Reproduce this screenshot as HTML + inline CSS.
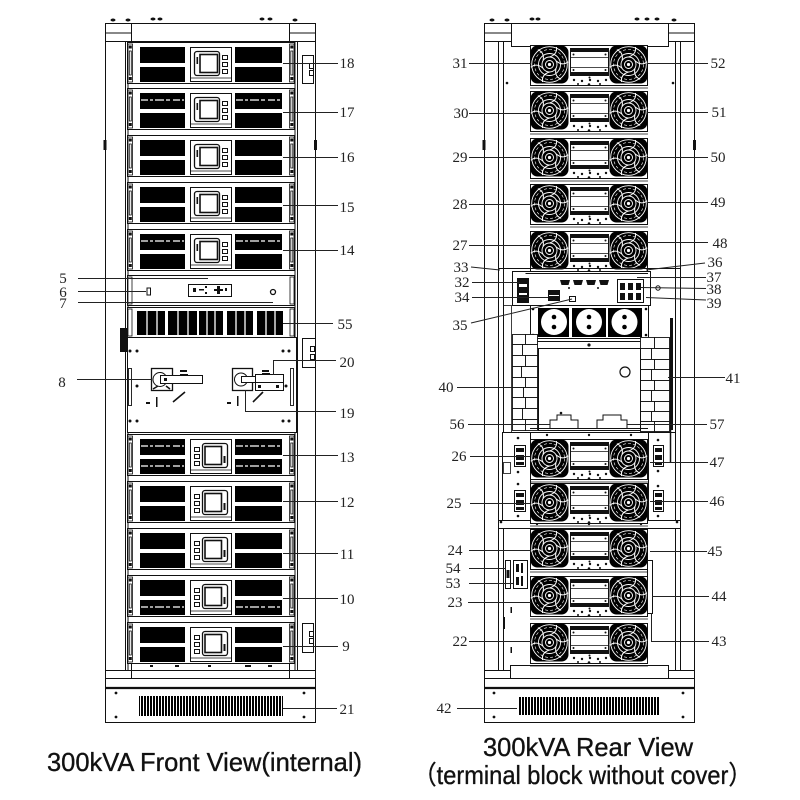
<!DOCTYPE html>
<html><head><meta charset="utf-8"><style>
html,body{margin:0;padding:0;background:#fff;}
svg{display:block;}
.l{font-family:"Liberation Serif",serif;font-size:15px;fill:#222;}
.t{font-family:"Liberation Sans","Noto Sans CJK SC",sans-serif;font-size:26px;fill:#111;stroke:#111;stroke-width:0.35px;}
</style></head><body>
<svg width="800" height="800" viewBox="0 0 800 800" xmlns="http://www.w3.org/2000/svg">
<defs>
<pattern id="vent" width="3" height="30" patternUnits="userSpaceOnUse"><rect width="2" height="30" fill="#000"/></pattern>
<g id="hdl">
<rect x="1" y="2" width="4.5" height="38" fill="#fff" stroke="#111" stroke-width="0.8"/>
<rect x="2.3" y="9" width="2" height="24" fill="none" stroke="#111" stroke-width="0.8"/>
<rect x="1.8" y="3.5" width="3" height="3" fill="#111"/>
<rect x="1.8" y="35" width="3" height="3" fill="#111"/>
</g>
<g id="pmA">
<rect x="0.5" y="0.5" width="167" height="41" fill="#fff" stroke="#111"/>
<use href="#hdl"/><use href="#hdl" x="161.5"/>
<rect x="13" y="5" width="45" height="16" fill="#000"/>
<rect x="13" y="25" width="45" height="15" fill="#000"/>
<rect x="108" y="5" width="47" height="16" fill="#000"/>
<rect x="108" y="25" width="47" height="15" fill="#000"/>
<rect x="63.5" y="5.5" width="41" height="34" fill="#fff" stroke="#111"/>
<line x1="63.5" y1="36" x2="104.5" y2="36" stroke="#111" stroke-width="0.7"/>
<rect x="67.5" y="9.5" width="25" height="24" rx="2.5" fill="none" stroke="#111" stroke-width="1.3"/>
<rect x="73" y="12.5" width="17.5" height="18" fill="none" stroke="#111" stroke-width="1.6"/>
<rect x="69.5" y="15" width="1.6" height="7" fill="#111"/>
<rect x="95.5" y="13.5" width="5" height="4" fill="none" stroke="#111"/>
<rect x="95.5" y="20.5" width="5" height="4" fill="none" stroke="#111"/>
<rect x="95.5" y="27.5" width="5" height="4" fill="none" stroke="#111"/>
</g>
<g id="pmB">
<rect x="0.5" y="0.5" width="167" height="41" fill="#fff" stroke="#111"/>
<use href="#hdl"/><use href="#hdl" x="161.5"/>
<rect x="13" y="5" width="45" height="16" fill="#000"/>
<rect x="13" y="25" width="45" height="15" fill="#000"/>
<rect x="108" y="5" width="47" height="16" fill="#000"/>
<rect x="108" y="25" width="47" height="15" fill="#000"/>
<rect x="63.5" y="5.5" width="41" height="34" fill="#fff" stroke="#111"/>
<line x1="63.5" y1="36" x2="104.5" y2="36" stroke="#111" stroke-width="0.7"/>
<rect x="67.5" y="13.5" width="5" height="4" fill="none" stroke="#111"/>
<rect x="67.5" y="20.5" width="5" height="4" fill="none" stroke="#111"/>
<rect x="67.5" y="27.5" width="5" height="4" fill="none" stroke="#111"/>
<rect x="75.5" y="9.5" width="25" height="24" rx="2.5" fill="none" stroke="#111" stroke-width="1.3"/>
<rect x="78" y="12.5" width="16.5" height="18" fill="none" stroke="#111" stroke-width="1.6"/>
<rect x="96.5" y="22" width="2" height="7" fill="#111"/>
</g>
<g id="fan">
<rect x="-19" y="-19" width="38" height="38" rx="7" fill="#000"/>
<circle r="17.8" fill="none" stroke="#fff" stroke-width="0.9"/>
<circle r="15" fill="none" stroke="#fff" stroke-width="0.6" stroke-dasharray="3 2"/>
<circle r="11" fill="none" stroke="#fff" stroke-width="0.9"/>
<circle r="7.5" fill="none" stroke="#fff" stroke-width="0.9"/>
<circle r="4" fill="none" stroke="#fff" stroke-width="0.9"/>
<circle r="1.6" fill="#fff"/>
<g fill="none" stroke="#fff" stroke-width="1">
<path d="M0,-7.5 Q8,-10 7,-17.5"/>
<path d="M0,-7.5 Q8,-10 7,-17.5" transform="rotate(60)"/>
<path d="M0,-7.5 Q8,-10 7,-17.5" transform="rotate(120)"/>
<path d="M0,-7.5 Q8,-10 7,-17.5" transform="rotate(180)"/>
<path d="M0,-7.5 Q8,-10 7,-17.5" transform="rotate(240)"/>
<path d="M0,-7.5 Q8,-10 7,-17.5" transform="rotate(300)"/>
</g>
</g>
<g id="fm">
<rect x="0.5" y="0.5" width="117" height="40" fill="#fff" stroke="#111"/>
<use href="#fan" x="19.5" y="19.5"/>
<use href="#fan" x="98.5" y="19.5"/>
<rect x="40.5" y="3.5" width="38" height="27" fill="#fff" stroke="#111"/>
<rect x="41" y="4" width="37" height="3" fill="#111"/>
<rect x="41" y="27" width="37" height="3" fill="#111"/>
<line x1="41" y1="12.5" x2="78" y2="12.5" stroke="#111" stroke-width="0.8"/>
<line x1="41" y1="22.5" x2="78" y2="22.5" stroke="#111" stroke-width="0.8"/>
<g fill="#111">
<circle cx="43.5" cy="9.5" r="1"/><circle cx="75.5" cy="9.5" r="1"/>
<circle cx="43.5" cy="25" r="1"/><circle cx="75.5" cy="25" r="1"/>
<circle cx="59.5" cy="32.5" r="1"/>
<circle cx="44" cy="35" r="1.2"/><circle cx="52" cy="36" r="1.2"/><circle cx="60" cy="35" r="1.2"/><circle cx="68" cy="36" r="1.2"/><circle cx="76" cy="35" r="1.2"/>
<circle cx="48" cy="39" r="1"/><circle cx="59" cy="39.5" r="1.3"/><circle cx="70" cy="39" r="1"/>
</g>
<line x1="0" y1="43" x2="118" y2="43" stroke="#111" stroke-width="0.8"/>
</g>
</defs>

<rect width="800" height="800" fill="#fff"/>

<!-- ================= FRONT CABINET ================= -->
<g fill="#111">
<ellipse cx="113" cy="20" rx="2.5" ry="1.5"/><ellipse cx="128" cy="20" rx="2.5" ry="1.5"/>
<ellipse cx="153" cy="19" rx="2.5" ry="1.5"/><ellipse cx="160" cy="19" rx="2.5" ry="1.5"/>
<ellipse cx="262" cy="19" rx="2.5" ry="1.5"/><ellipse cx="270" cy="19" rx="2.5" ry="1.5"/>
<ellipse cx="295" cy="20" rx="2.5" ry="1.5"/>
</g>
<g stroke="#111" fill="none" stroke-width="1">
<rect x="105.5" y="23.5" width="210" height="699"/>
<line x1="105.5" y1="33" x2="131.5" y2="33"/>
<line x1="289.5" y1="33" x2="315.5" y2="33"/>
<line x1="105.5" y1="41.5" x2="315.5" y2="41.5"/>
<line x1="131.5" y1="23.5" x2="131.5" y2="41.5"/>
<line x1="289.5" y1="23.5" x2="289.5" y2="41.5"/>
<line x1="125.5" y1="41.5" x2="125.5" y2="670"/>
<line x1="128" y1="41.5" x2="128" y2="670"/>
<line x1="297.5" y1="41.5" x2="297.5" y2="670"/>
<line x1="295" y1="41.5" x2="295" y2="670"/>
<line x1="105.5" y1="670.5" x2="315.5" y2="670.5"/>
<line x1="131.5" y1="664" x2="131.5" y2="678.5"/>
<line x1="289.5" y1="664" x2="289.5" y2="678.5"/>
<line x1="105.5" y1="678.5" x2="315.5" y2="678.5"/>
</g>
<line x1="105" y1="688" x2="316" y2="688" stroke="#111" stroke-width="2.2"/>
<rect x="139" y="696" width="144" height="20" fill="url(#vent)"/>
<g fill="#111">
<circle cx="116" cy="693" r="1.4"/><circle cx="304" cy="693" r="1.4"/>
<circle cx="116" cy="717" r="1.4"/><circle cx="304" cy="717" r="1.4"/>
<rect x="103.5" y="140" width="3" height="10"/><rect x="314" y="140" width="3" height="10"/>
<rect x="120" y="328" width="7" height="24"/>
</g>

<!-- side boxes -->
<g stroke="#111" fill="#fff" stroke-width="1">
<rect x="302.5" y="55.5" width="11" height="28"/>
<rect x="309.5" y="63.5" width="4" height="5" fill="none"/><rect x="309.5" y="70.5" width="4" height="5" fill="none"/>
<rect x="302.5" y="338.5" width="13" height="29"/>
<rect x="310.5" y="346.5" width="4" height="5" fill="none"/><rect x="310.5" y="354.5" width="4" height="5" fill="none"/>
<rect x="302.5" y="623.5" width="11" height="29"/>
<rect x="309.5" y="631.5" width="4" height="5" fill="none"/><rect x="309.5" y="638.5" width="4" height="5" fill="none"/>
</g>

<!-- power modules -->
<use href="#pmA" x="127" y="42"/>
<use href="#pmA" x="127" y="88"/>
<use href="#pmA" x="127" y="135"/>
<use href="#pmA" x="127" y="182"/>
<use href="#pmA" x="127" y="229"/>
<use href="#pmB" x="127" y="434"/>
<use href="#pmB" x="127" y="481"/>
<use href="#pmB" x="127" y="528"/>
<use href="#pmB" x="127" y="575"/>
<use href="#pmB" x="127" y="622"/>
<g stroke="#fff" stroke-width="1.3" stroke-dasharray="7 2 3 2 9 2 4 3">
<line x1="141" y1="100" x2="184" y2="100"/><line x1="236" y1="100" x2="281" y2="100"/>
<line x1="141" y1="241" x2="184" y2="241"/><line x1="236" y1="241" x2="281" y2="241"/>
<line x1="141" y1="446" x2="184" y2="446"/><line x1="236" y1="446" x2="281" y2="446"/>
<line x1="141" y1="466" x2="184" y2="466"/><line x1="236" y1="466" x2="281" y2="466"/>
<line x1="141" y1="607" x2="184" y2="607"/><line x1="236" y1="607" x2="281" y2="607"/>
</g>

<!-- panel 5/6/7 -->
<rect x="127.5" y="275.5" width="167" height="30" fill="#fff" stroke="#111"/>
<rect x="128" y="277" width="4" height="27" fill="none" stroke="#111" stroke-width="0.8"/>
<rect x="290" y="277" width="4" height="27" fill="none" stroke="#111" stroke-width="0.8"/>
<rect x="147" y="288" width="3.5" height="7" fill="none" stroke="#111"/>
<rect x="188.5" y="284.5" width="43" height="12" fill="#fff" stroke="#111"/>
<g fill="#111">
<rect x="193" y="288" width="3" height="4"/><rect x="199" y="289" width="5" height="1.5"/><rect x="205" y="286" width="2" height="2"/><rect x="205" y="292" width="2" height="2"/>
<rect x="214" y="289" width="9" height="2"/><rect x="217" y="286" width="3" height="8"/><rect x="225" y="288" width="2" height="3"/>
</g>
<circle cx="273" cy="292" r="2.5" fill="none" stroke="#111" stroke-width="1.3"/>

<!-- fan panel 55 -->
<rect x="127.5" y="307.5" width="167" height="30" fill="#fff" stroke="#111"/>
<rect x="128" y="309" width="4" height="27" fill="none" stroke="#111" stroke-width="0.8"/>
<rect x="290" y="309" width="4" height="27" fill="none" stroke="#111" stroke-width="0.8"/>
<g fill="#000">
<rect x="137" y="311" width="28" height="24"/>
<rect x="168" y="311" width="29" height="24"/>
<rect x="199" y="311" width="24" height="24"/>
<rect x="227" y="311" width="26" height="24"/>
<rect x="257" y="311" width="26" height="24"/>
</g>
<g stroke="#fff" stroke-width="1.3">
<line x1="147" y1="311" x2="147" y2="335"/><line x1="157" y1="311" x2="157" y2="335"/>
<line x1="178" y1="311" x2="178" y2="335"/><line x1="188" y1="311" x2="188" y2="335"/>
<line x1="207" y1="311" x2="207" y2="335"/><line x1="215" y1="311" x2="215" y2="335"/>
<line x1="236" y1="311" x2="236" y2="335"/><line x1="245" y1="311" x2="245" y2="335"/>
<line x1="266" y1="311" x2="266" y2="335"/><line x1="275" y1="311" x2="275" y2="335"/>
</g>

<!-- breaker section -->
<rect x="127.5" y="337.5" width="169" height="95" fill="#fff" stroke="#111"/>
<g fill="#111">
<circle cx="130" cy="351" r="1.5"/><circle cx="137" cy="351" r="1.5"/><circle cx="283" cy="351" r="1.5"/><circle cx="289" cy="351" r="1.5"/>
<circle cx="137" cy="386" r="1.5"/><circle cx="286" cy="386" r="1.5"/>
<circle cx="130" cy="421" r="1.5"/><circle cx="137" cy="421" r="1.5"/><circle cx="283" cy="421" r="1.5"/><circle cx="289" cy="421" r="1.5"/>
<rect x="180" y="370" width="7" height="2"/><rect x="180" y="374" width="8" height="1.5"/>
<rect x="262" y="370" width="7" height="2"/><rect x="262" y="373" width="8" height="1.5"/>
<rect x="146" y="402" width="4" height="2"/><rect x="227" y="402" width="4" height="2"/>
<rect x="156" y="397" width="1.5" height="10"/><rect x="237" y="396" width="1.5" height="10"/>
</g>
<rect x="128.5" y="368.5" width="3" height="37" fill="none" stroke="#111" stroke-width="0.9"/>
<rect x="290.5" y="368.5" width="3" height="37" fill="none" stroke="#111" stroke-width="0.9"/>
<rect x="151.5" y="368.5" width="21" height="22" fill="#fff" stroke="#111" stroke-width="1.3"/>
<circle cx="160" cy="379.5" r="7" fill="none" stroke="#111"/>
<rect x="160.5" y="375.5" width="42" height="8" fill="#fff" stroke="#111"/>
<rect x="164" y="378" width="3" height="3" fill="#111"/>
<path d="M153,389 l5,-3 M170,389 l-4,-3" stroke="#111" stroke-width="1.5"/>
<line x1="173" y1="402" x2="185" y2="392" stroke="#111" stroke-width="1.6"/>
<rect x="232.5" y="368.5" width="20" height="22" fill="#fff" stroke="#111" stroke-width="1.3"/>
<circle cx="241" cy="379.5" r="6.5" fill="none" stroke="#111"/>
<rect x="241.5" y="376.5" width="15" height="6" fill="#fff" stroke="#111"/>
<rect x="255.5" y="374.5" width="28" height="16" fill="#fff" stroke="#111"/>
<line x1="255.5" y1="382.5" x2="283.5" y2="382.5" stroke="#111"/>
<rect x="258" y="385" width="3" height="3" fill="#111"/><rect x="276" y="385" width="3" height="3" fill="#111"/>
<line x1="253" y1="402" x2="263" y2="392" stroke="#111" stroke-width="1.6"/>

<g fill="#111"><rect x="150" y="665" width="3" height="2"/><rect x="175" y="665" width="4" height="2"/><rect x="208" y="665" width="3" height="2"/><rect x="245" y="665" width="6" height="2"/><rect x="268" y="665" width="4" height="2"/></g>

<!-- front leader lines -->
<g stroke="#222" stroke-width="1" fill="none">
<line x1="283" y1="63.5" x2="338" y2="63.5"/>
<line x1="283" y1="112.5" x2="338" y2="112.5"/>
<line x1="283" y1="157.5" x2="338" y2="157.5"/>
<line x1="283" y1="205.5" x2="338" y2="205.5"/>
<line x1="283" y1="250.5" x2="338" y2="250.5"/>
<line x1="283" y1="323.5" x2="333" y2="323.5"/>
<polyline points="273.5,375 273.5,360.5 336,360.5"/>
<polyline points="245.5,390 245.5,411.5 336,411.5"/>
<line x1="283" y1="455.5" x2="338" y2="455.5"/>
<line x1="283" y1="501.5" x2="338" y2="501.5"/>
<line x1="283" y1="553.5" x2="338" y2="553.5"/>
<line x1="283" y1="598.5" x2="338" y2="598.5"/>
<line x1="283" y1="646.5" x2="338" y2="646.5"/>
<line x1="283" y1="708.5" x2="337" y2="708.5"/>
<line x1="78" y1="278.5" x2="208" y2="278.5"/>
<line x1="78" y1="291.5" x2="146" y2="291.5"/>
<line x1="78" y1="302.5" x2="273" y2="302.5"/>
<line x1="77" y1="379.5" x2="152" y2="379.5"/>
</g>
<g class="l" text-anchor="middle">
<text x="347" y="68">18</text>
<text x="347" y="117">17</text>
<text x="347" y="162">16</text>
<text x="347" y="212">15</text>
<text x="347" y="255">14</text>
<text x="345" y="329">55</text>
<text x="347" y="367">20</text>
<text x="347" y="418">19</text>
<text x="347" y="462">13</text>
<text x="347" y="507">12</text>
<text x="347" y="559">11</text>
<text x="347" y="604">10</text>
<text x="346" y="651">9</text>
<text x="347" y="714">21</text>
<text x="63" y="283">5</text>
<text x="63" y="297">6</text>
<text x="63" y="308">7</text>
<text x="62" y="387">8</text>
</g>

<!-- ================= REAR CABINET ================= -->
<g fill="#111">
<ellipse cx="492" cy="20" rx="2.5" ry="1.5"/><ellipse cx="507" cy="20" rx="2.5" ry="1.5"/>
<ellipse cx="532" cy="19" rx="2.5" ry="1.5"/><ellipse cx="538" cy="19" rx="2.5" ry="1.5"/>
<ellipse cx="637" cy="19" rx="2.5" ry="1.5"/><ellipse cx="647" cy="19" rx="2.5" ry="1.5"/><ellipse cx="657" cy="19" rx="2.5" ry="1.5"/>
<ellipse cx="674" cy="20" rx="2.5" ry="1.5"/>
</g>
<g stroke="#111" fill="none" stroke-width="1">
<rect x="484.5" y="23.5" width="210" height="699"/>
<line x1="484.5" y1="33" x2="511" y2="33"/>
<line x1="668" y1="33" x2="694.5" y2="33"/>
<line x1="484.5" y1="41.5" x2="511" y2="41.5"/>
<line x1="668" y1="41.5" x2="694.5" y2="41.5"/>
<polyline points="511.5,23.5 511.5,46.5 668.5,46.5 668.5,23.5"/>
<line x1="498.5" y1="41.5" x2="498.5" y2="670"/>
<line x1="503.5" y1="41.5" x2="503.5" y2="670"/>
<line x1="675.5" y1="41.5" x2="675.5" y2="670"/>
<line x1="680.5" y1="41.5" x2="680.5" y2="670"/>
<polyline points="510.5,678 510.5,665.5 668.5,665.5 668.5,678"/>
<line x1="484.5" y1="670.5" x2="510.5" y2="670.5"/>
<line x1="668.5" y1="670.5" x2="694.5" y2="670.5"/>
<line x1="484.5" y1="678.5" x2="694.5" y2="678.5"/>
</g>
<line x1="484" y1="688" x2="695" y2="688" stroke="#111" stroke-width="2.2"/>
<rect x="518" y="697" width="142" height="18" fill="url(#vent)"/>
<g fill="#111">
<circle cx="494" cy="693" r="1.4"/><circle cx="683" cy="693" r="1.4"/>
<circle cx="494" cy="717" r="1.4"/><circle cx="683" cy="717" r="1.4"/>
<rect x="482.5" y="140" width="3" height="10"/><rect x="693" y="140" width="3" height="10"/>
<circle cx="507" cy="83" r="1.3"/><circle cx="673" cy="83" r="1.3"/>
</g>

<use href="#fm" x="530" y="45"/>
<use href="#fm" x="530" y="91"/>
<use href="#fm" x="530" y="138"/>
<use href="#fm" x="530" y="184"/>
<use href="#fm" x="530" y="231"/>

<!-- control area -->
<g stroke="#111" fill="none">
<line x1="498" y1="268.5" x2="680" y2="268.5"/>
<rect x="512.5" y="271.5" width="138" height="34" fill="#fff"/>
<line x1="525.5" y1="273.5" x2="648" y2="273.5"/>
</g>
<rect x="517" y="278" width="12" height="25" fill="#111"/>
<rect x="519" y="284" width="8" height="3" fill="#fff"/><rect x="519" y="293" width="8" height="2" fill="#fff"/>
<g fill="#111">
<path d="M560,280 h10 l-1.5,5 h-7 z"/><path d="M573,280 h10 l-1.5,5 h-7 z"/><path d="M586,280 h10 l-1.5,5 h-7 z"/><path d="M599,280 h10 l-1.5,5 h-7 z"/>
<rect x="548" y="290" width="12" height="11"/>
<rect x="620" y="283" width="5" height="7"/><rect x="628" y="283" width="5" height="7"/><rect x="636" y="283" width="5" height="7"/>
<rect x="620" y="293" width="5" height="7"/><rect x="628" y="293" width="5" height="7"/><rect x="636" y="293" width="5" height="7"/>
<circle cx="569" cy="288" r="1"/><circle cx="598" cy="288" r="1"/>
</g>
<rect x="569.5" y="296.5" width="6" height="5" fill="#fff" stroke="#111"/>
<rect x="617.5" y="279.5" width="26" height="23" fill="none" stroke="#111"/>
<line x1="549" y1="295.5" x2="559" y2="295.5" stroke="#fff"/>
<circle cx="658" cy="288" r="2.2" fill="none" stroke="#111"/>

<!-- sockets -->
<rect x="530.5" y="305.5" width="118" height="33" fill="#fff" stroke="#111"/>
<g fill="#000"><rect x="538" y="308" width="31" height="29"/><rect x="572" y="308" width="34" height="29"/><rect x="608" y="308" width="34" height="29"/></g>
<g fill="#fff"><circle cx="554" cy="322" r="13"/><circle cx="589" cy="322" r="13"/><circle cx="624.5" cy="322" r="13"/></g>
<g fill="#000">
<circle cx="554" cy="317" r="2.3"/><circle cx="554" cy="327" r="2.3"/>
<circle cx="589" cy="317" r="2.3"/><circle cx="589" cy="327" r="2.3"/>
<circle cx="624.5" cy="317" r="2.3"/><circle cx="624.5" cy="327" r="2.3"/>
<circle cx="533" cy="309" r="1.3"/><circle cx="646" cy="309" r="1.3"/><circle cx="533" cy="335" r="1.3"/><circle cx="646" cy="335" r="1.3"/>
</g>
<g stroke="#111" fill="none">
<line x1="530" y1="341.5" x2="648" y2="341.5"/>
<line x1="530" y1="348.5" x2="648" y2="348.5"/>
</g>
<circle cx="589" cy="345" r="1.6" fill="#111"/>

<!-- side stacks -->
<g stroke="#111" fill="#fff" stroke-width="0.9">
<rect x="512.5" y="334.5" width="13" height="10"/><rect x="525.5" y="334.5" width="12" height="10"/>
<rect x="512.5" y="344.5" width="10" height="11"/><rect x="522.5" y="344.5" width="15" height="11"/>
<rect x="512.5" y="355.5" width="13" height="11"/><rect x="525.5" y="355.5" width="12" height="11"/>
<rect x="512.5" y="366.5" width="9" height="11"/><rect x="521.5" y="366.5" width="16" height="11"/>
<rect x="512.5" y="377.5" width="13" height="10"/><rect x="525.5" y="377.5" width="12" height="10"/>
<rect x="512.5" y="387.5" width="11" height="10"/><rect x="523.5" y="387.5" width="14" height="10"/>
<rect x="512.5" y="397.5" width="13" height="11"/><rect x="525.5" y="397.5" width="12" height="11"/>
<rect x="512.5" y="408.5" width="10" height="11"/><rect x="522.5" y="408.5" width="15" height="11"/>
<rect x="512.5" y="419.5" width="13" height="11"/><rect x="525.5" y="419.5" width="12" height="11"/>
<rect x="640.5" y="337.5" width="14" height="11"/><rect x="654.5" y="337.5" width="15" height="11"/>
<rect x="640.5" y="348.5" width="11" height="11"/><rect x="651.5" y="348.5" width="18" height="11"/>
<rect x="640.5" y="359.5" width="14" height="10"/><rect x="654.5" y="359.5" width="15" height="10"/>
<rect x="640.5" y="369.5" width="11" height="11"/><rect x="651.5" y="369.5" width="18" height="11"/>
<rect x="640.5" y="380.5" width="14" height="10"/><rect x="654.5" y="380.5" width="15" height="10"/>
<rect x="640.5" y="390.5" width="11" height="11"/><rect x="651.5" y="390.5" width="18" height="11"/>
<rect x="640.5" y="401.5" width="14" height="10"/><rect x="654.5" y="401.5" width="15" height="10"/>
<rect x="640.5" y="411.5" width="11" height="10"/><rect x="651.5" y="411.5" width="18" height="10"/>
<rect x="640.5" y="421.5" width="14" height="10"/><rect x="654.5" y="421.5" width="15" height="10"/>
</g>
<rect x="670" y="318" width="3" height="112" fill="#111"/>
<rect x="503.5" y="305.5" width="8" height="130" fill="none" stroke="#111" stroke-width="0.8"/>

<!-- transformer -->
<rect x="538.5" y="348.5" width="102" height="82" fill="#fff" stroke="#111"/>
<circle cx="625" cy="372" r="5" fill="none" stroke="#111" stroke-width="1.2"/>
<path d="M550,428 V420 H557 V415 H571 V420 H578 V428 M597,428 V420 H603 V415 H621 V420 H627 V428" fill="none" stroke="#111"/>
<circle cx="561" cy="413" r="1.3" fill="#111"/>
<line x1="530" y1="428.5" x2="648" y2="428.5" stroke="#111"/>
<line x1="530" y1="432.5" x2="648" y2="432.5" stroke="#111"/>
<g fill="#111"><circle cx="547" cy="435" r="1.2"/><circle cx="589" cy="435" r="1.2"/><circle cx="631" cy="435" r="1.2"/></g>

<!-- side boards around modules 6-7 -->
<rect x="502.5" y="432.5" width="28" height="88" fill="#fff" stroke="#111"/>
<rect x="648.5" y="432.5" width="27" height="88" fill="#fff" stroke="#111"/>
<rect x="498.5" y="520.5" width="182" height="8" fill="#fff" stroke="#111"/>
<g fill="#111"><circle cx="501" cy="522" r="1.3"/><circle cx="677" cy="522" r="1.3"/><circle cx="537" cy="524" r="1.2"/><circle cx="589" cy="524" r="1.2"/><circle cx="641" cy="524" r="1.2"/></g>
<rect x="503.5" y="462.5" width="7" height="11" fill="none" stroke="#111" stroke-width="0.8"/>
<line x1="670.5" y1="430" x2="670.5" y2="463" stroke="#111" stroke-width="1.5"/>
<g>
<rect x="514.5" y="445.5" width="11" height="21" fill="#fff" stroke="#111"/>
<rect x="516" y="448" width="8" height="4" fill="#111"/><rect x="516" y="455" width="8" height="5" fill="#111"/><rect x="516" y="462" width="8" height="3" fill="#111"/>
<rect x="514.5" y="490.5" width="11" height="21" fill="#fff" stroke="#111"/>
<rect x="516" y="493" width="8" height="4" fill="#111"/><rect x="516" y="500" width="8" height="5" fill="#111"/><rect x="516" y="507" width="8" height="3" fill="#111"/>
<rect x="653.5" y="445.5" width="10" height="21" fill="#fff" stroke="#111"/>
<rect x="655" y="448" width="7" height="4" fill="#111"/><rect x="655" y="455" width="7" height="5" fill="#111"/><rect x="655" y="462" width="7" height="3" fill="#111"/>
<rect x="653.5" y="490.5" width="10" height="21" fill="#fff" stroke="#111"/>
<rect x="655" y="493" width="7" height="4" fill="#111"/><rect x="655" y="500" width="7" height="5" fill="#111"/><rect x="655" y="507" width="7" height="3" fill="#111"/>
</g>
<g fill="#111">
<circle cx="518" cy="438" r="1.3"/><circle cx="518" cy="472" r="1.3"/><circle cx="518" cy="484" r="1.3"/><circle cx="518" cy="516" r="1.3"/>
<circle cx="658" cy="440" r="1.3"/><circle cx="658" cy="471" r="1.3"/><circle cx="658" cy="486" r="1.3"/><circle cx="658" cy="516" r="1.3"/>
</g>

<use href="#fm" x="530" y="439"/>
<use href="#fm" x="530" y="483"/>
<use href="#fm" x="530" y="529"/>
<use href="#fm" x="530" y="576"/>
<use href="#fm" x="530" y="623"/>

<!-- 53/54 and 44 parts -->
<rect x="505.5" y="560.5" width="5" height="28" fill="#fff" stroke="#111"/>
<rect x="506.5" y="570" width="3" height="8" fill="#111"/>
<rect x="513.5" y="560.5" width="14" height="28" fill="#fff" stroke="#111"/>
<g fill="#111"><rect x="516" y="564" width="3" height="8"/><rect x="521" y="563" width="2" height="10"/><rect x="516" y="577" width="3" height="8"/><rect x="521" y="576" width="2" height="10"/>
<rect x="510.5" y="607" width="1.5" height="6"/><rect x="510.5" y="647" width="1.5" height="6"/><rect x="503.5" y="617" width="1.5" height="12"/></g>
<rect x="647.5" y="560.5" width="5" height="53" fill="#fff" stroke="#111"/>

<!-- rear leader lines -->
<g stroke="#222" stroke-width="1" fill="none">
<line x1="469" y1="63.5" x2="531" y2="63.5"/>
<line x1="469" y1="113.5" x2="531" y2="113.5"/>
<line x1="469" y1="157.5" x2="531" y2="157.5"/>
<line x1="469" y1="204.5" x2="531" y2="204.5"/>
<line x1="469" y1="245.5" x2="531" y2="245.5"/>
<line x1="471" y1="267" x2="500" y2="270"/>
<line x1="472" y1="282.5" x2="520" y2="282.5"/>
<line x1="472" y1="297.5" x2="548" y2="297.5"/>
<line x1="471" y1="323" x2="572" y2="299"/>
<line x1="457" y1="387.5" x2="512" y2="387.5"/>
<line x1="468" y1="424.5" x2="550" y2="424.5"/>
<line x1="470" y1="456.5" x2="530" y2="456.5"/>
<line x1="470" y1="503.5" x2="530" y2="503.5"/>
<line x1="469" y1="550.5" x2="531" y2="550.5"/>
<line x1="469" y1="568.5" x2="506" y2="568.5"/>
<line x1="469" y1="583.5" x2="513" y2="583.5"/>
<line x1="468" y1="602.5" x2="531" y2="602.5"/>
<line x1="469" y1="641.5" x2="531" y2="641.5"/>
<line x1="457" y1="708.5" x2="517" y2="708.5"/>
<line x1="647" y1="63.5" x2="708" y2="63.5"/>
<line x1="647" y1="112.5" x2="708" y2="112.5"/>
<line x1="647" y1="157.5" x2="708" y2="157.5"/>
<line x1="647" y1="202.5" x2="708" y2="202.5"/>
<line x1="647" y1="242.5" x2="708" y2="242.5"/>
<line x1="646" y1="270" x2="705" y2="263"/>
<line x1="637" y1="277.5" x2="706" y2="277.5"/>
<line x1="641" y1="287.5" x2="706" y2="288.5"/>
<line x1="646" y1="297.5" x2="706" y2="300"/>
<line x1="668" y1="377.5" x2="725" y2="377.5"/>
<line x1="627" y1="424.5" x2="707" y2="424.5"/>
<line x1="650" y1="462.5" x2="708" y2="462.5"/>
<line x1="650" y1="501.5" x2="708" y2="501.5"/>
<line x1="650" y1="551.5" x2="707" y2="551.5"/>
<line x1="652" y1="596.5" x2="709" y2="596.5"/>
<polyline points="651.5,613 651.5,641.5 709,641.5"/>
</g>
<g class="l" text-anchor="middle">
<text x="460" y="68">31</text>
<text x="461" y="118">30</text>
<text x="460" y="162">29</text>
<text x="460" y="209">28</text>
<text x="460" y="250">27</text>
<text x="461" y="272">33</text>
<text x="462" y="287">32</text>
<text x="462" y="302">34</text>
<text x="460" y="330">35</text>
<text x="446" y="392">40</text>
<text x="457" y="429">56</text>
<text x="459" y="461">26</text>
<text x="454" y="508">25</text>
<text x="455" y="555">24</text>
<text x="453" y="573">54</text>
<text x="453" y="588">53</text>
<text x="455" y="607">23</text>
<text x="460" y="646">22</text>
<text x="444" y="713">42</text>
<text x="718" y="68">52</text>
<text x="719" y="117">51</text>
<text x="718" y="162">50</text>
<text x="718" y="207">49</text>
<text x="720" y="248">48</text>
<text x="715" y="267">36</text>
<text x="714" y="282">37</text>
<text x="714" y="294">38</text>
<text x="714" y="308">39</text>
<text x="733" y="383">41</text>
<text x="717" y="429">57</text>
<text x="717" y="467">47</text>
<text x="717" y="506">46</text>
<text x="715" y="556">45</text>
<text x="719" y="601">44</text>
<text x="719" y="646">43</text>
</g>

<!-- titles -->
<text class="t" x="47" y="771" textLength="315" lengthAdjust="spacingAndGlyphs">300kVA Front View(internal)</text>
<text class="t" x="483" y="756" textLength="210" lengthAdjust="spacingAndGlyphs">300kVA Rear View</text>
<text class="t" x="413" y="784" textLength="339" lengthAdjust="spacingAndGlyphs">（terminal block without cover）</text>
</svg>
</body></html>
